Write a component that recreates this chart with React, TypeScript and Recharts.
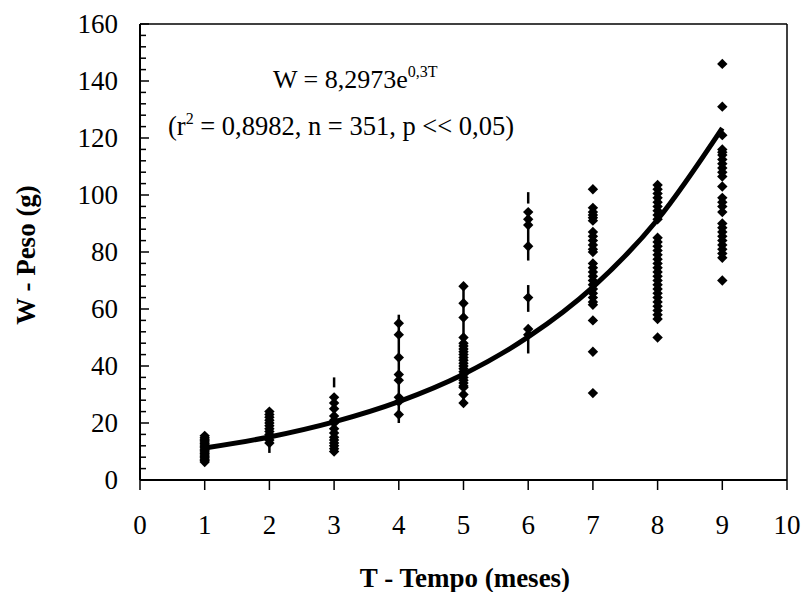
import React from 'react';
import { ComposedChart, Scatter, Line, XAxis, YAxis, ReferenceLine } from 'recharts';

// Observed weights (g) per month T
const W_T1 = [6.3, 6.8, 7.3, 7.8, 8.3, 8.8, 9.3, 9.8, 10.3, 10.8, 11.3, 11.8, 12.3, 12.8, 13.3, 13.8, 14.3, 14.8, 15.5];
const W_T2 = [13, 14, 15, 16, 17, 18, 19, 20, 21, 22, 23, 24];
const W_T3 = [10, 11, 12, 13, 14, 15, 16.5, 18, 20, 21, 22.5, 25, 27, 29];
const W_T4 = [23, 27.5, 29, 35, 37, 43, 51, 55];
const W_T5 = [27, 30, 32.5, 33, 34, 35, 36, 37, 38, 39, 40, 41, 42, 43, 44, 45, 46, 47, 48, 50, 57, 62, 68];
const W_T6 = [51, 53, 64, 82, 89.5, 91.5, 94];
const W_T7 = [30.5, 45, 56, 61.5, 62.5, 64, 65.5, 67, 68.5, 70, 71.5, 73, 74.5, 76, 80, 81, 82.5, 84, 85.5, 87, 91, 92, 93, 94, 95.5, 102];
const W_T8 = [50, 56.5, 58, 59.5, 61, 62.5, 64, 65.5, 67, 68.5, 70, 71.5, 73, 74.5, 76, 77.5, 79, 80.5, 82, 83.5, 85, 91.5, 93, 94.5, 96, 97.5, 99, 100.5, 102, 103.5];
const W_T9 = [70, 78, 79.5, 81, 82.5, 84, 85.5, 87, 88.5, 90, 94, 96, 97.5, 99, 103, 106.5, 108, 109.5, 111, 112.5, 114, 115, 116, 121, 131, 146];

const MONTHS = [1, 2, 3, 4, 5, 6, 7, 8, 9];
const W_BY_MONTH = [W_T1, W_T2, W_T3, W_T4, W_T5, W_T6, W_T7, W_T8, W_T9];

// Thin vertical traces visible in columns: [T, low, high]
const STEM_T = [2, 3, 4, 5, 6, 6, 6, 6];
const STEM_LO = [9.5, 32.5, 20, 27, 97, 77, 59, 44.4];
const STEM_HI = [24, 36, 58, 68, 101, 94, 68.4, 53];

// Fitted curve W = 8,2973 e^(0,3T)
const CURVE_T = [1, 2, 3, 4, 5, 6, 7, 8, 9];
const CURVE_W = [11.2, 15.1, 20.4, 27.5, 37.1, 50.2, 67.7, 91.4, 123.5];

const X_TICKS = [0, 1, 2, 3, 4, 5, 6, 7, 8, 9, 10];
const Y_TICKS = [0, 4, 8, 12, 16, 20, 24, 28, 32, 36, 40, 44, 48, 52, 56, 60, 64, 68, 72, 76, 80, 84, 88, 92, 96, 100, 104, 108, 112, 116, 120, 124, 128, 132, 136, 140, 144, 148, 152, 156, 160];
const Y_LABELS = [0, 20, 40, 60, 80, 100, 120, 140, 160];

const points = MONTHS.flatMap((t, i) => W_BY_MONTH[i].map((w) => ({ t, w })));
const curve = CURVE_T.map((t, i) => ({ t, w: CURVE_W[i] }));
const stems = STEM_T.map((t, i) => ({ t, lo: STEM_LO[i], hi: STEM_HI[i] }));

const FONT = '"Liberation Serif", "Times New Roman", serif';

const Diamond = (props: any) => {
  const { cx, cy } = props;
  if (cx == null || cy == null) return null;
  const hw = 5.2;
  const hh = 5.2;
  return <polygon points={`${cx},${cy - hh} ${cx + hw},${cy} ${cx},${cy + hh} ${cx - hw},${cy}`} fill="#000" />;
};

const XTick = (props: any) => {
  const { x, y, payload } = props;
  return (
    <g>
      <line x1={x} y1={y} x2={x} y2={y + 10} stroke="#000" strokeWidth={1.5} />
      <text x={x} y={y + 54} textAnchor="middle" fontFamily={FONT} fontSize={27} fill="#000">
        {payload.value}
      </text>
    </g>
  );
};

const YTick = (props: any) => {
  const { x, y, payload } = props;
  const major = Y_LABELS.includes(payload.value);
  return (
    <g>
      <line x1={x} y1={y} x2={x + (major ? 9 : 6)} y2={y} stroke="#000" strokeWidth={1.5} />
      {major && (
        <text x={x - 22} y={y + 9} textAnchor="end" fontFamily={FONT} fontSize={27} fill="#000">
          {payload.value}
        </text>
      )}
    </g>
  );
};

export default function App() {
  return (
    <div style={{ position: 'absolute', left: 0, top: 0, width: 805, height: 592, background: '#fff' }}>
      <ComposedChart width={805} height={592} margin={{ top: 24, right: 18, left: 0, bottom: 0 }}>
        <XAxis
          dataKey="t"
          type="number"
          domain={[0, 10]}
          ticks={X_TICKS}
          interval={0}
          allowDataOverflow
          height={112}
          tickLine={false}
          tickSize={0}
          tickMargin={0}
          axisLine={{ stroke: '#000', strokeWidth: 2 }}
          tick={<XTick />}
        />
        <YAxis
          type="number"
          domain={[0, 160]}
          ticks={Y_TICKS}
          interval={0}
          allowDataOverflow
          width={140}
          tickLine={false}
          tickSize={0}
          tickMargin={0}
          axisLine={{ stroke: '#000', strokeWidth: 2 }}
          tick={<YTick />}
        />
        <ReferenceLine y={160} stroke="#000" strokeWidth={1.5} />
        <ReferenceLine x={10} stroke="#000" strokeWidth={1.5} />
        {stems.map((s, i) => (
          <ReferenceLine
            key={i}
            segment={[{ x: s.t, y: s.lo }, { x: s.t, y: s.hi }]}
            stroke="#000"
            strokeWidth={2.5}
          />
        ))}
        <Scatter data={points} dataKey="w" shape={<Diamond />} isAnimationActive={false} />
        <Line
          data={curve}
          dataKey="w"
          type="monotone"
          stroke="#000"
          strokeWidth={5}
          dot={false}
          activeDot={false}
          isAnimationActive={false}
        />
        <text x={273} y={88} fontFamily={FONT} fontSize={26} fill="#000">
          W = 8,2973e<tspan fontSize={16} dy={-11}>0,3T</tspan>
        </text>
        <text x={168} y={135} fontFamily={FONT} fontSize={26.5} fill="#000">
          (r<tspan fontSize={16} dy={-11}>2</tspan>
          <tspan dy={11}> = 0,8982, n = 351, p &lt;&lt; 0,05)</tspan>
        </text>
        <text x={465} y={587} textAnchor="middle" fontFamily={FONT} fontSize={27} fontWeight="bold" fill="#000">
          T - Tempo (meses)
        </text>
        <text
          x={35}
          y={255}
          transform="rotate(-90 35 255)"
          textAnchor="middle"
          fontFamily={FONT}
          fontSize={27}
          fontWeight="bold"
          fill="#000"
        >
          W - Peso (g)
        </text>
      </ComposedChart>
    </div>
  );
}
